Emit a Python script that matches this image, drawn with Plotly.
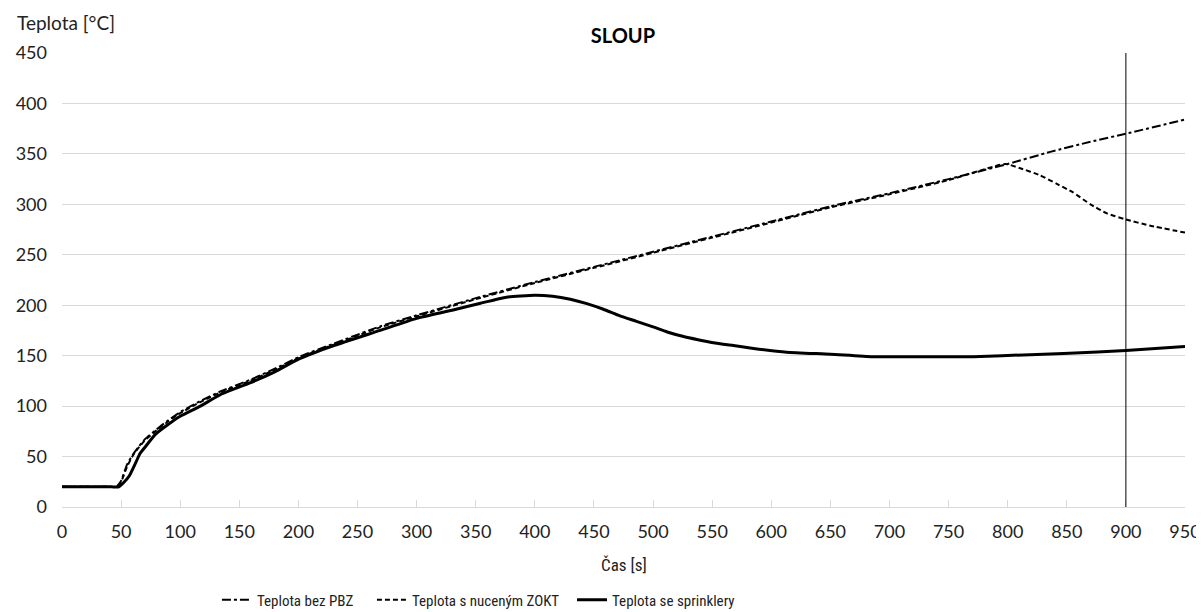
import plotly.graph_objects as go

# --- data ---
t_bez = [0, 15, 30, 40, 46, 50, 55, 60, 65, 70, 80, 90, 100, 117, 135, 159, 180, 201, 230,
         269, 300, 350, 400, 450, 500, 550, 600, 650, 700, 750, 800, 836, 870, 900, 950]
v_bez = [20, 20, 20, 20, 20, 26, 42, 52, 60, 67, 77, 86, 94, 105, 115, 126, 137, 149, 162,
         179, 190, 207, 223, 238, 253, 268, 283, 298, 311, 325, 340, 352, 362, 370, 384]

t_zokt = [0, 15, 30, 40, 46, 50, 55, 60, 65, 70, 80, 90, 100, 117, 135, 159, 180, 201, 230,
          269, 300, 350, 400, 450, 500, 550, 600, 650, 700, 750, 798, 810, 827, 842, 855,
          870, 884, 900, 920, 950]
v_zokt = [20, 20, 20, 20, 20, 25, 40, 51, 59, 66, 76, 85, 93, 104, 114, 125, 136, 148, 161,
          178, 189, 206, 222, 237, 252, 267, 282, 297, 310, 324, 340, 336, 329, 320, 312,
          300, 291, 285, 279, 272]

t_spr = [0, 15, 30, 42, 48, 52, 57, 62, 66, 70, 79, 90, 100, 117, 135, 159, 180, 201, 230,
         269, 300, 330, 354, 376, 400, 415, 430, 444, 458, 472, 486, 500, 512, 525, 538,
         551, 568, 585, 613, 650, 686, 730, 771, 819, 876, 900, 950]
v_spr = [20, 20, 20, 20, 20, 24, 31, 43, 53, 59, 72, 82, 90, 100, 112, 123, 134, 147, 160,
         175, 187, 195, 202, 208, 210, 209, 206, 201.6, 196, 189.4, 184, 178.5, 173.5,
         169.2, 165.8, 162.8, 160, 157.2, 153.5, 151.5, 149, 149, 149, 151, 153.6, 155, 159]

marker_time = 900

series_names = ["Teplota bez PBZ", "Teplota s nuceným ZOKT", "Teplota se sprinklery"]

FONT = "Lato, Open Sans, sans-serif"
FONT_N = "Liberation Sans Narrow, Roboto Condensed, Lato, sans-serif"
TXT = "#222"

fig = go.Figure()
fig.add_trace(go.Scatter(x=t_bez, y=v_bez, mode="lines", name=series_names[0],
                         line=dict(color="black", width=2, dash="dashdot",
                                   shape="spline", smoothing=0.5),
                         legend="legend"))
fig.add_trace(go.Scatter(x=t_zokt, y=v_zokt, mode="lines", name=series_names[1],
                         line=dict(color="black", width=2, dash="5px,3px",
                                   shape="spline", smoothing=0.5),
                         legend="legend2"))
fig.add_trace(go.Scatter(x=t_spr, y=v_spr, mode="lines", name=series_names[2],
                         line=dict(color="black", width=3, shape="spline", smoothing=0.5),
                         legend="legend3"))

fig.add_shape(type="line", x0=marker_time, x1=marker_time, y0=0, y1=450,
              xref="x", yref="y", line=dict(color="black", width=1))

# the page body has an 8px margin: the figure is sized/offset to compensate
W, H = 1196, 604
leg_common = dict(orientation="h", yanchor="middle", y=0.02, yref="container",
                  xanchor="left", xref="container",
                  font=dict(family=FONT_N, size=15, color=TXT),
                  bgcolor="rgba(0,0,0,0)", itemwidth=30)
fig.update_layout(
    width=W, height=H,
    margin=dict(l=54, r=19, t=45, b=105, autoexpand=False),
    paper_bgcolor="white", plot_bgcolor="white",
    font=dict(family=FONT, size=17, color=TXT),
    title=dict(text="<b>SLOUP</b>", x=0.5142, xanchor="center", y=0.9536, yanchor="middle",
               xref="container", yref="container",
               font=dict(family=FONT, size=20, color="black")),
    showlegend=True,
    legend=dict(leg_common, x=0.1747),
    legend2=dict(leg_common, x=0.3043),
    legend3=dict(leg_common, x=0.4716),
    xaxis=dict(range=[0, 950], dtick=50, tick0=0, showgrid=False, zeroline=False,
               showline=True, linecolor="#d9d9d9", linewidth=1,
               ticks="inside", ticklen=7, tickcolor="#d9d9d9",
               ticklabelstandoff=8,
               tickfont=dict(family=FONT, size=18, color=TXT)),
    yaxis=dict(range=[0, 450], dtick=50, tick0=0, showgrid=True, gridcolor="#d9d9d9",
               gridwidth=1, zeroline=False, showline=False, ticks="",
               ticklabelstandoff=14,
               tickfont=dict(family=FONT, size=18, color=TXT)),
    annotations=[
        dict(text="Teplota [°C]", xref="paper", yref="paper", x=-0.0419, y=1.068,
             xanchor="left", yanchor="middle", showarrow=False,
             font=dict(family=FONT, size=19, color=TXT)),
        dict(text="Čas [s]", xref="paper", yref="paper", x=0.5, y=-0.128,
             xanchor="center", yanchor="middle", showarrow=False,
             font=dict(family=FONT_N, size=17, color=TXT)),
    ],
)

fig.write_html("out.html")
